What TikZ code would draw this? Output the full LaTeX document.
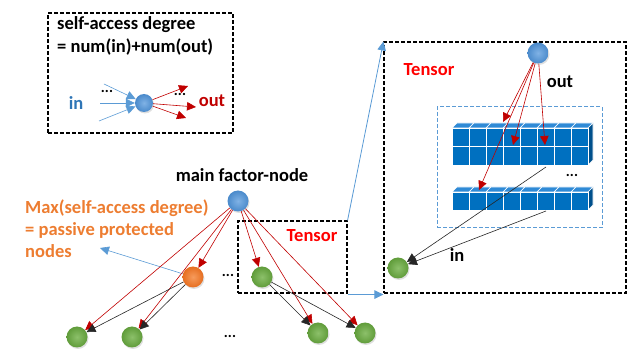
\documentclass[tikz,border=0pt]{standalone}
\usepackage{fontspec}
\setmainfont{Carlito}
\usetikzlibrary{arrows.meta,shadows}
\definecolor{arrred}{HTML}{C00000}
\definecolor{tred}{HTML}{FF0000}
\definecolor{lblue}{HTML}{5B9BD5}
\definecolor{inblue}{HTML}{2E75B6}
\definecolor{ortxt}{HTML}{ED7D31}
\definecolor{cubef}{HTML}{0070C0}
\definecolor{cubet}{HTML}{2F8AD6}
\definecolor{cubes}{HTML}{00508C}
\definecolor{gin}{RGB}{140,192,106}
\definecolor{gout}{RGB}{96,156,58}
\definecolor{oin}{RGB}{246,155,92}
\definecolor{oout}{RGB}{230,110,32}
\definecolor{bin}{RGB}{128,178,229}
\definecolor{bout}{RGB}{74,138,203}
\begin{document}
\begin{tikzpicture}[x=1pt,y=-1pt,
  dashbox/.style={draw=black, line width=1.1pt, dash pattern=on 4pt off 2pt, inner sep=0pt},
  innerbox/.style={draw=lblue, line width=1pt, dash pattern=on 4pt off 2pt, inner sep=0pt},
  ball/.style={circle, minimum size=21pt, inner sep=0pt, drop shadow={opacity=0.25, shadow xshift=1pt, shadow yshift=-1.5pt}},
  blueball/.style={ball, inner color=bin, outer color=bout},
  gball/.style={ball, inner color=gin, outer color=gout},
  oball/.style={ball, inner color=oin, outer color=oout},
  tip/.style={-{Triangle[length=9pt,width=8.5pt]}},
  redarr/.style={draw=arrred, line width=0.6pt, tip, color=arrred},
  blkarr/.style={draw=black!85, line width=0.6pt, tip, color=black!85},
  bluearr/.style={draw=lblue, line width=0.8pt, tip, color=lblue},
  lbl/.style={font=\fontsize{18.5}{22}\selectfont\bfseries, inner sep=0pt},
  dots/.style={font=\fontsize{15}{15}\selectfont\bfseries, inner sep=0pt}
]
\useasboundingbox (0,0) rectangle (633,350);

% ---------- legend box ----------
\node[dashbox, minimum width=185pt, minimum height=120pt] (legend) at (140.5,73) {};
\node[lbl, anchor=west] (t1) at (57,25) {self-access degree};
\node[lbl, anchor=west] (t2) at (57,47) {= num(in)+num(out)};
\node[blueball, minimum size=18pt] (lg) at (144,103) {};
\coordinate (a1) at (104,84);
\coordinate (a2) at (100,103);
\coordinate (a3) at (99,121);
\coordinate (b1) at (188,86);
\coordinate (b2) at (196,107);
\coordinate (b3) at (186,118);
\foreach \c in {a1,a2,a3} \draw[bluearr, line width=0.6pt] (\c) -- (lg);
\foreach \c in {b1,b2,b3} \draw[redarr] (lg) -- (\c);
\node[lbl, text=inblue] (inl) at (76,103) {in};
\node[lbl, text=arrred] (outl) at (212,101) {out};
\node[dots] (d1) at (107,91) {...};
\node[dots] (d2) at (180,94) {...};

% ---------- main graph ----------
\node[lbl] (mlab) at (242,175) {main factor-node};
\node[blueball] (m) at (238,201) {};
\node[lbl, text=ortxt, align=left, anchor=west] (otxt) at (25,229) {Max(self-access degree)\\= passive protected\\nodes};
\node[dashbox, minimum width=109pt, minimum height=72pt] (tb) at (292.5,257) {};
\node[lbl, text=tred] (tens1) at (312,236) {Tensor};
\node[oball] (o) at (193,277) {};
\node[gball] (g0) at (262,277) {};
\node[gball] (g1) at (77,337) {};
\node[gball] (g2) at (132,337) {};
\node[gball] (g3) at (318,333) {};
\node[gball] (g4) at (365,333) {};
\node[dots] (d3) at (228,275) {...};
\node[dots] (d4) at (230,336) {...};
\coordinate (pp) at (100,248);
\draw[bluearr, line width=0.6pt] (o) -- (pp);
\foreach \n in {g1,g2,o,g0,g3,g4} \draw[redarr] (m) -- (\n);
\draw[blkarr] (o) -- (g1);
\draw[blkarr] (o) -- (g2);
\draw[blkarr] (g0) -- (g3);
\draw[blkarr] (g0) -- (g4);

% ---------- big tensor box ----------
\node[dashbox, minimum width=242pt, minimum height=251pt] (bb) at (505,167.5) {};
\draw[bluearr] (tb.north east) -- (bb.north west);
\draw[bluearr] ([yshift=-1pt]tb.south east) -- ([yshift=-1pt]bb.south west);
\node[lbl, text=tred] (tens2) at (429,70) {Tensor};
\node[lbl] (outr) at (560,82) {out};
\node[lbl] (inr) at (457,255) {in};
\node[innerbox, minimum width=165pt, minimum height=121pt] (ib) at (519.5,167.5) {};

% cube blocks
\foreach \top/\rows in {128/2,192/1}{
  \pgfmathsetmacro{\h}{\rows==2 ? 37 : 18}
  \foreach \i in {0,...,7}{
    \fill[cubet, draw=white, line width=0.7pt] (452+17*\i,\top) -- ++(5,-5) -- ++(17,0) -- ++(-5,5) -- cycle;
  }
  \fill[cubes, draw=white, line width=0.7pt] (588,\top) -- ++(5,-5) -- ++(0,\h) -- ++(-5,5) -- cycle;
  \foreach \i in {0,...,7}{
    \fill[cubef, draw=white, line width=0.7pt] (452+17*\i,\top) rectangle ++(17,\h);
    \ifnum\rows=2 \draw[white, line width=0.7pt] (452+17*\i,\top+18.5) -- ++(17,0); \fi
  }
}
\node[dots] (d5) at (572,175) {...};

\node[blueball] (t) at (538,53) {};
\node[gball] (gi) at (398,268) {};
\coordinate (c1) at (503,122);
\coordinate (c2) at (513,145);
\coordinate (c3) at (545,145);
\coordinate (c4) at (479,190);
\coordinate (e1) at (546,167);
\coordinate (e2) at (546,211);
\foreach \c in {c1,c2,c3,c4} \draw[redarr] (t) -- (\c);
\draw[blkarr] (e1) -- (gi);
\draw[blkarr] (e2) -- (gi);
\end{tikzpicture}
\end{document}
